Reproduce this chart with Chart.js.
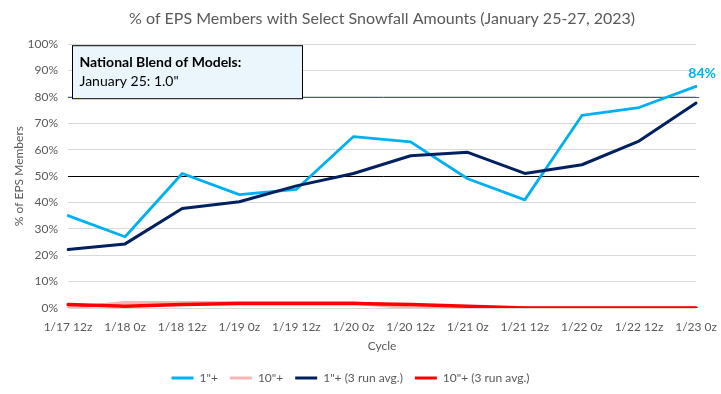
<!DOCTYPE html>
<html><head><meta charset="utf-8">
<script src="https://cdn.jsdelivr.net/npm/chart.js@4"></script>
<style>html,body{margin:0;padding:0;background:#fff}#wrap{width:721px;height:394px}</style>
</head><body><div id="wrap"><canvas id="c" width="721" height="394"></canvas></div>
<script>
const cycles = ["1/17 12z","1/18 0z","1/18 12z","1/19 0z","1/19 12z","1/20 0z","1/20 12z","1/21 0z","1/21 12z","1/22 0z","1/22 12z","1/23 0z"];
const oneInch = [35,27,51,43,45,65,63,49,41,73,76,84];
const tenInch = [0,2,2,2,2,2,0,0,0,0,0,0];
const oneInchAvg = [22.2,24.3,37.7,40.3,46.3,51,57.7,59,51,54.3,63.3,77.7];
const tenInchAvg = [1.3,0.7,1.3,1.7,1.7,1.7,1.3,0.7,0,0,0,0];
const seriesNames = ['1"+','10"+','1"+ (3 run avg.)','10"+ (3 run avg.)'];
const seriesColors = ['#00b0f0','#f7b4b4','#002060','#ff0000'];
const referenceLines = [80, 50];
const referenceColors = ['#4646dc','#000000'];
const noteTitle = 'National Blend of Models:';
const noteText = 'January 25: 1.0"';
const lastLabel = '84%';

const FONT = 'Lato';
const extras = {
  id:'extras',
  beforeDatasetsDraw(chart){
    const {ctx, chartArea:a, scales:{y}} = chart;
    ctx.save();
    referenceLines.forEach((v,i)=>{
      const py = Math.round(y.getPixelForValue(v))+0.5;
      ctx.strokeStyle = referenceColors[i]; ctx.lineWidth = 1;
      ctx.beginPath(); ctx.moveTo(a.left, py); ctx.lineTo(a.right+3, py); ctx.stroke();
    });
    ctx.restore();
  },
  afterDatasetsDraw(chart){
    const {ctx, chartArea:a} = chart;
    ctx.save();
    const bx = a.left+4.5, by = a.top+1.5, bw = 230, bh = 53;
    ctx.fillStyle = '#eaf6fc'; ctx.fillRect(bx,by,bw,bh);
    ctx.strokeStyle = '#000'; ctx.lineWidth = 1; ctx.strokeRect(bx,by,bw,bh);
    ctx.fillStyle = '#000'; ctx.textBaseline = 'middle'; ctx.textAlign='left';
    ctx.font = 'bold 14px '+FONT; ctx.fillText(noteTitle, bx+7, by+17);
    ctx.font = '14px '+FONT; ctx.fillText(noteText, bx+7, by+36);
    const meta = chart.getDatasetMeta(0);
    const p = meta.data[meta.data.length-1];
    ctx.fillStyle = seriesColors[0]; ctx.font = 'bold 14px '+FONT; ctx.textAlign='center';
    ctx.fillText(lastLabel, p.x+6, p.y-13);
    ctx.restore();
  }
};

const datasets = [oneInch, tenInch, oneInchAvg, tenInchAvg].map((d,i)=>({
  label: seriesNames[i], data: d, borderColor: seriesColors[i], backgroundColor: seriesColors[i],
  borderWidth: i===0?2.8:(i===2?3:3.5), pointRadius:0, tension:0, fill:false,
  borderJoinStyle:'round', borderCapStyle:'round', order: 4-i
}));

new Chart(document.getElementById('c'), {
  type:'line',
  data:{labels:cycles, datasets},
  plugins:[extras],
  options:{
    responsive:false, animation:false, devicePixelRatio:1,
    layout:{padding:{top:0,right:20,bottom:0,left:0}},
    plugins:{
      tooltip:{enabled:false},
      title:{display:true, fullSize:false, text:'% of EPS Members with Select Snowfall Amounts (January 25-27, 2023)',
        color:'#595959', font:{family:FONT,size:16,weight:'normal'}, padding:{top:9,bottom:16}},
      legend:{position:'bottom', labels:{
        font:{family:FONT,size:12}, color:'#595959', boxWidth:22, boxHeight:3, padding:12,
        generateLabels(chart){
          return chart.data.datasets.map((ds,i)=>({text:ds.label, fillStyle:ds.borderColor, strokeStyle:ds.borderColor,
            lineWidth:0, hidden:false, datasetIndex:i, fontColor:'#595959'}));
        }}}
    },
    scales:{
      x:{offset:false, grid:{display:false}, border:{display:false},
        ticks:{autoSkip:false, maxRotation:0, color:'#595959', font:{family:FONT,size:12}, padding:4},
        title:{display:true, text:'Cycle', color:'#595959', font:{family:FONT,size:12}, padding:{top:8,bottom:7}},
        afterFit(s){ s.height = 52; }
      },
      y:{min:0,max:100, border:{display:false},
        grid:{color:'#d9d9d9', drawTicks:false},
        ticks:{stepSize:10, callback:v=>v+'%', color:'#595959', font:{family:FONT,size:12}, padding:10},
        title:{display:true, text:'% of EPS Members', color:'#595959', font:{family:FONT,size:12}, padding:{top:12,bottom:0}},
        afterFit(s){ s.width = 68; }
      }
    }
  }
});
</script></body></html>
